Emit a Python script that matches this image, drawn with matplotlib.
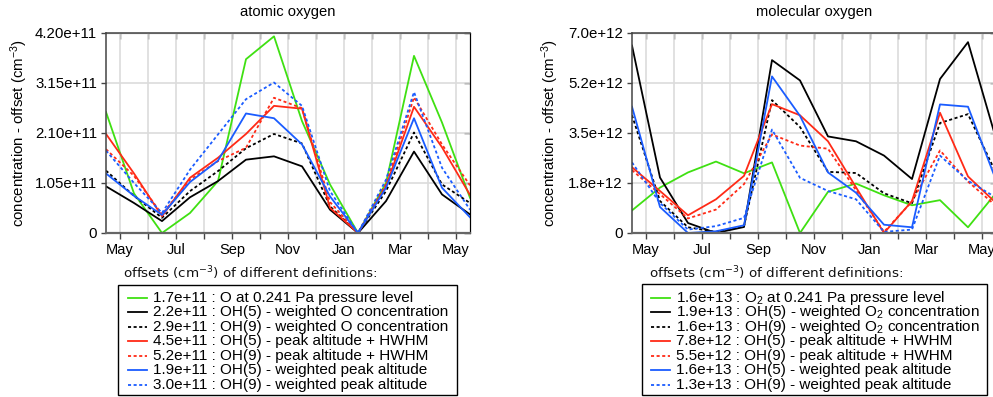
import matplotlib
matplotlib.use("Agg")
import matplotlib.pyplot as plt
from matplotlib.lines import Line2D
from matplotlib.patches import Rectangle
from matplotlib.ticker import FuncFormatter
import numpy as np

plt.rcParams["font.family"] = ["Liberation Sans", "DejaVu Sans"]
plt.rcParams["mathtext.fontset"] = "custom"
plt.rcParams["mathtext.rm"] = "Liberation Sans"
plt.rcParams["mathtext.it"] = "Liberation Sans:italic"

# ---- data -------------------------------------------------------------
month_labels = ["May", "Jul", "Sep", "Nov", "Jan", "Mar", "May"]

# atomic oxygen, concentration - offset (units of 1e11 cm^-3)
o_green   = [2.54, 0.83, 0.00, 0.42, 1.09, 3.65, 4.13, 2.35, 1.02, 0.00, 1.05, 3.72, 2.32, 0.74]
o_oh5_w   = [0.98, 0.63, 0.25, 0.75, 1.09, 1.54, 1.61, 1.40, 0.49, 0.00, 0.67, 1.71, 0.81, 0.39]
o_oh9_w   = [1.31, 0.78, 0.32, 0.88, 1.30, 1.78, 2.08, 1.88, 0.56, 0.00, 0.88, 2.11, 1.02, 0.63]
o_oh5_hw  = [2.08, 1.25, 0.35, 1.16, 1.58, 2.08, 2.67, 2.61, 0.53, 0.00, 0.98, 2.65, 1.80, 0.80]
o_oh9_hw  = [1.76, 1.20, 0.39, 1.12, 1.51, 1.79, 2.84, 2.62, 0.65, 0.00, 1.02, 2.85, 1.86, 1.00]
o_oh5_pk  = [1.25, 0.78, 0.38, 1.07, 1.52, 2.51, 2.41, 1.86, 0.77, 0.00, 0.95, 2.41, 0.95, 0.33]
o_oh9_pk  = [1.73, 1.05, 0.42, 1.33, 2.07, 2.81, 3.16, 2.67, 0.88, 0.00, 1.12, 2.96, 1.37, 0.49]

# molecular oxygen, concentration - offset (units of 1e12 cm^-3)
o2_green  = [0.79, 1.59, 2.12, 2.50, 2.09, 2.47, 0.00, 1.44, 1.73, 1.32, 0.97, 1.15, 0.20, 1.40]
o2_oh5_w  = [6.56, 1.94, 0.35, 0.00, 0.21, 6.05, 5.34, 3.38, 3.21, 2.71, 1.89, 5.39, 6.68, 3.30]
o2_oh9_w  = [4.12, 1.12, 0.20, 0.04, 0.24, 4.65, 3.71, 2.14, 2.10, 1.39, 1.04, 3.85, 4.16, 2.10]
o2_oh5_hw = [2.30, 1.47, 0.62, 1.18, 2.00, 4.51, 4.12, 3.21, 1.60, 0.00, 1.12, 4.21, 1.98, 1.05]
o2_oh9_hw = [2.20, 1.36, 0.51, 0.82, 1.71, 3.45, 3.06, 2.95, 1.50, 0.04, 1.10, 2.89, 1.80, 0.95]
o2_oh5_pk = [4.42, 0.91, 0.00, 0.06, 0.27, 5.48, 4.10, 2.12, 1.41, 0.29, 0.20, 4.50, 4.42, 1.85]
o2_oh9_pk = [2.47, 1.05, 0.12, 0.24, 0.53, 3.62, 1.93, 1.47, 1.18, 0.04, 0.12, 2.71, 1.83, 1.24]

o_offsets  = [1.7e11, 2.2e11, 2.9e11, 4.5e11, 5.2e11, 1.9e11, 3.0e11]
o2_offsets = [1.6e13, 1.9e13, 1.6e13, 7.8e12, 5.5e12, 1.6e13, 1.3e13]

o_names = ["O at 0.241 Pa pressure level",
           "OH(5) - weighted O concentration",
           "OH(9) - weighted O concentration",
           "OH(5) - peak altitude + HWHM",
           "OH(9) - peak altitude + HWHM",
           "OH(5) - weighted peak altitude",
           "OH(9) - weighted peak altitude"]
o2_names = ["O$_2$ at 0.241 Pa pressure level",
            "OH(5) - weighted O$_2$ concentration",
            "OH(9) - weighted O$_2$ concentration",
            "OH(5) - peak altitude + HWHM",
            "OH(9) - peak altitude + HWHM",
            "OH(5) - weighted peak altitude",
            "OH(9) - weighted peak altitude"]

o_ticks  = [0, 1.05e11, 2.10e11, 3.15e11, 4.20e11]
o2_ticks = [0, 1.75e12, 3.5e12, 5.25e12, 7.0e12]

# ---- styles -----------------------------------------------------------
GREEN, RED, BLUE = "#3fe012", "#ff2a16", "#1a5cff"
DASH = (0, (1.7, 1.4))
colors = [GREEN, "black", "black", RED, RED, BLUE, BLUE]
styles = ["-", "-", DASH, "-", DASH, "-", DASH]
LW = 1.3

W, H = 993, 397
fig = plt.figure(figsize=(W / 100, H / 100), dpi=100)


def fx(x):
    return x / W


def fy(y):
    return 1 - y / H


def setup(ax, ticks, fmt, title, label_x):
    ax.set_xlim(0, 13)
    ax.set_ylim(ticks[0], ticks[-1])
    mt = np.arange(13) + 0.5
    ax.set_xticks(mt)
    ax.set_xticklabels([month_labels[i // 2] if i % 2 == 0 else "" for i in range(13)])
    ax.set_yticks(ticks)
    ax.yaxis.set_major_formatter(FuncFormatter(fmt))
    ax.grid(True, color="#dcdcdc", lw=1.2)
    ax.set_axisbelow(True)
    ax.tick_params(axis="x", direction="out", length=4, width=1, color="#444",
                   labelsize=10.5, pad=3.5)
    ax.tick_params(axis="y", direction="out", length=3.5, width=1, color="#444",
                   labelsize=10.8, pad=3)
    for s in ["left", "top", "bottom"]:
        ax.spines[s].set_color("#444")
        ax.spines[s].set_linewidth(1.1)
    ax.spines["bottom"].set_color("#666")
    ax.spines["bottom"].set_linewidth(1.6)
    top = ax.secondary_xaxis("top")
    top.set_xticks(mt)
    top.tick_params(direction="in", length=4, width=1, color="#333", labeltop=False)
    top.spines["top"].set_color("#444")
    right = ax.secondary_yaxis("right")
    right.set_yticks(ticks)
    right.tick_params(direction="in", length=4, width=1, color="#222", labelright=False)
    right.spines["right"].set_color("black")
    ax.set_ylabel("concentration - offset (cm$^{-3}$)", fontsize=10.8)
    ax.yaxis.set_label_coords(label_x, 0.5)
    ax.set_title(title, fontsize=10.6, pad=12)


def key(x_box, y_box, w_box, h_box, offsets, names, hx, head_x):
    fig.text(fx(head_x), fy(273), "offsets (cm$^{-3}$) of different definitions:",
             family="DejaVu Sans", fontsize=9.7, va="center", ha="left",
             math_fontfamily="dejavusans", color="#111")
    fig.patches.append(Rectangle((fx(x_box), fy(y_box + h_box)), fx(w_box), h_box / H,
                                 transform=fig.transFigure, fill=False,
                                 edgecolor="black", lw=1.0))
    for i, (off, name) in enumerate(zip(offsets, names)):
        yc = 298 + 14.45 * i
        fig.lines.append(Line2D([fx(hx - 8), fx(hx + 11)], [fy(yc), fy(yc)],
                                transform=fig.transFigure, color=colors[i],
                                ls=styles[i], lw=LW))
        fig.text(fx(hx + 17), fy(yc), f"{off:.1e} : {name}", fontsize=11,
                 va="center", ha="left")


x = np.arange(14)

ax1 = fig.add_axes([fx(106), fy(233), 364 / W, 200 / H])
for i, s in enumerate([o_green, o_oh5_w, o_oh9_w, o_oh5_hw, o_oh9_hw, o_oh5_pk, o_oh9_pk]):
    ax1.plot(x, np.array(s) * 1e11, color=colors[i], ls=styles[i], lw=LW)
setup(ax1, o_ticks, lambda v, p: "0" if v == 0 else f"{v:.2e}", "atomic oxygen", -0.208)

ax2 = fig.add_axes([fx(632), fy(233), 364 / W, 200 / H])
for i, s in enumerate([o2_green, o2_oh5_w, o2_oh9_w, o2_oh5_hw, o2_oh9_hw, o2_oh5_pk, o2_oh9_pk]):
    ax2.plot(x, np.array(s) * 1e12, color=colors[i], ls=styles[i], lw=LW)
setup(ax2, o2_ticks, lambda v, p: "0" if v == 0 else f"{v:.1e}", "molecular oxygen", -0.195)

key(118, 285, 339, 110, o_offsets, o_names, 136, 123)
key(642, 284, 345, 111, o2_offsets, o2_names, 659, 649)

fig.savefig("out.png", dpi=100)
